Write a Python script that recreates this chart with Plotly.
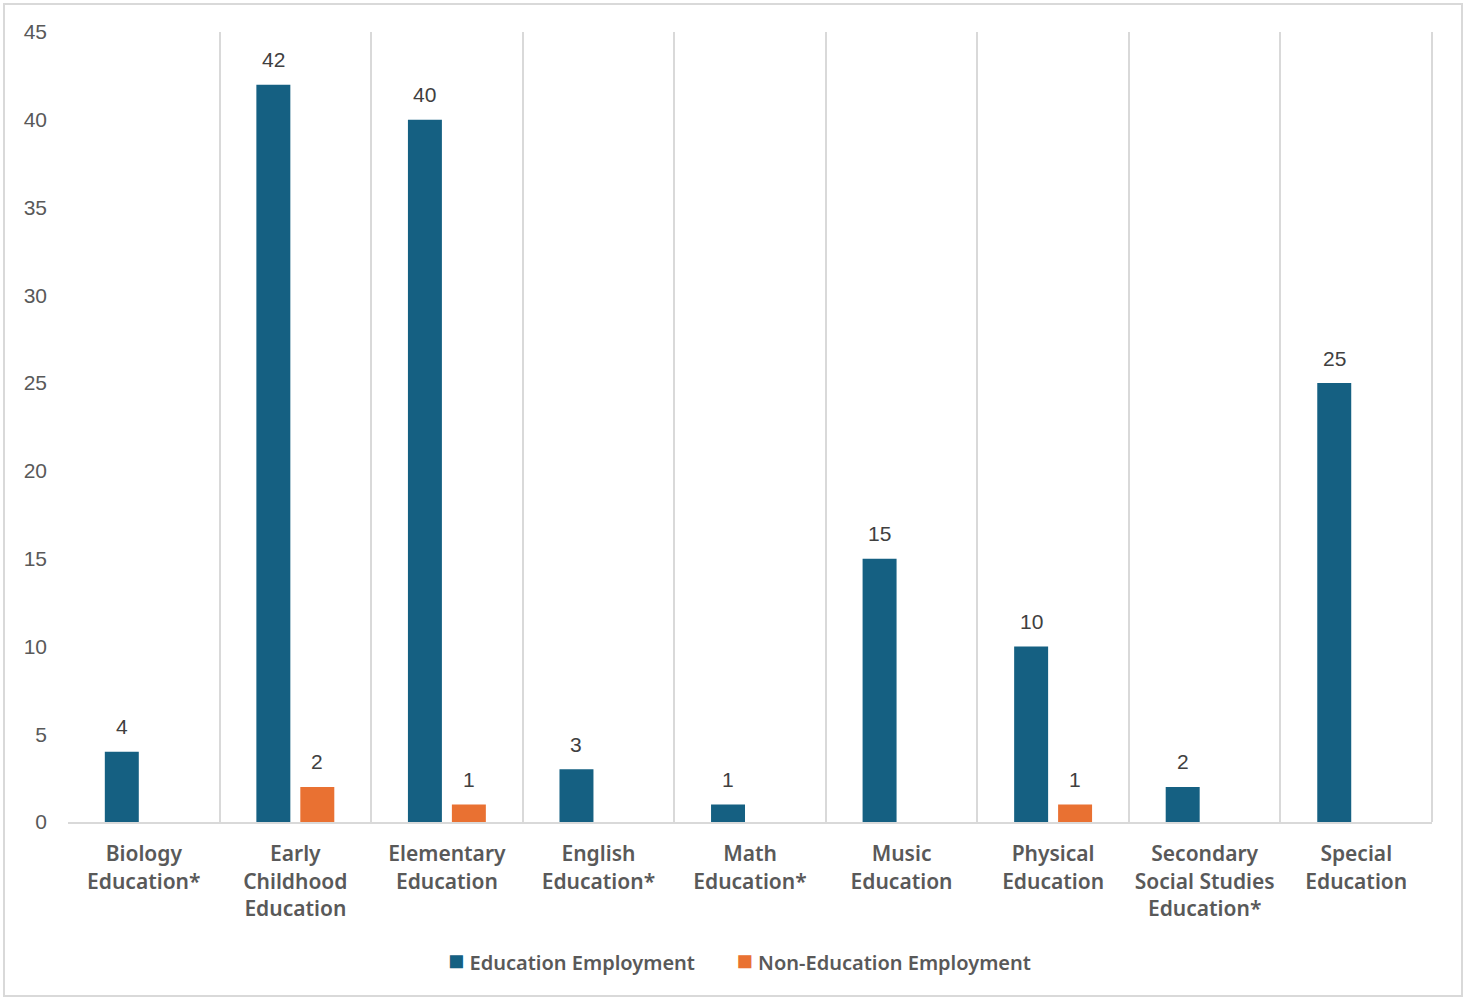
import plotly.graph_objects as go

categories = [
    "Biology<br>Education*",
    "Early<br>Childhood<br>Education",
    "Elementary<br>Education",
    "English<br>Education*",
    "Math<br>Education*",
    "Music<br>Education",
    "Physical<br>Education",
    "Secondary<br>Social Studies<br>Education*",
    "Special<br>Education",
]
education_employment = [4, 42, 40, 3, 1, 15, 10, 2, 25]
non_education_employment = [None, 2, 1, None, None, None, 1, None, None]
y_ticks = [0, 5, 10, 15, 20, 25, 30, 35, 40, 45]
series_names = ["Education Employment", "Non-Education Employment"]
series_colors = ["#156082", "#E97132"]

W, H = 1468, 998
ML, MR, MT, MB = 68, 36, 32, 176
BARGAP = 0.42
plot_w = W - ML - MR
slot_px = plot_w / len(categories) * (1 - BARGAP) / 2

fig = go.Figure()
annotations = []
for i, (name, vals, col) in enumerate(zip(series_names,
                                          [education_employment, non_education_employment],
                                          series_colors)):
    fig.add_trace(go.Bar(
        name=name, x=categories, y=vals,
        marker=dict(color=col, line=dict(width=0)),
        showlegend=False,
    ))
    shift = (i - 0.5) * slot_px
    for c, v in zip(categories, vals):
        if v is None:
            continue
        annotations.append(dict(
            x=c, y=v, xref="x", yref="y", text=str(v), showarrow=False,
            xshift=shift, yshift=25, yanchor="middle",
            font=dict(family="Liberation Sans, Arial, sans-serif", size=21, color="#404040"),
        ))

nb = "\u00a0"
legend_text = (
    f"<span style='color:{series_colors[0]};font-size:27px'>■</span>{nb}{series_names[0]}"
    + nb * 8 +
    f"<span style='color:{series_colors[1]};font-size:27px'>■</span>{nb}{series_names[1]}"
)
annotations.append(dict(
    x=0.4925, y=-0.1745, xref="paper", yref="paper", text=legend_text, showarrow=False,
    xanchor="center", yanchor="middle",
    font=dict(family="Noto Sans, sans-serif", size=20, color="#595959", weight=600),
))

fig.update_layout(
    width=W, height=H,
    margin=dict(l=ML, r=MR, t=MT, b=MB),
    paper_bgcolor="white", plot_bgcolor="white",
    barmode="group", bargap=BARGAP, bargroupgap=0.227,
    showlegend=False,
    font=dict(family="Liberation Sans, Arial, sans-serif"),
    xaxis=dict(
        type="category", tickson="boundaries", showgrid=True, gridcolor="#d9d9d9", gridwidth=2,
        showline=True, linecolor="#d9d9d9", linewidth=2,
        ticks="", tickfont=dict(family="Noto Sans, sans-serif", size=21, color="#595959", weight=600),
        ticklabelstandoff=12,
    ),
    yaxis=dict(
        range=[0, 45], tickvals=y_ticks, showgrid=False, zeroline=False, showline=False,
        tickfont=dict(family="Liberation Sans, Arial, sans-serif", size=21, color="#595959"),
        ticks="", ticklabelstandoff=20,
    ),
    annotations=annotations,
    shapes=[
        dict(type="rect", xref="paper", yref="paper",
             x0=(4 - ML) / plot_w, x1=(1462 - ML) / plot_w,
             y0=-(996 - (H - MB)) / (H - MT - MB), y1=(H - MB - 4) / (H - MT - MB),
             line=dict(color="#d9d9d9", width=2), fillcolor="rgba(0,0,0,0)", layer="below"),
        dict(type="line", xref="paper", yref="paper", x0=1, x1=1, y0=0, y1=1,
             line=dict(color="#d9d9d9", width=2)),
    ],
)

fig.write_html("out.html", config={"displayModeBar": False},
               post_script="document.body.style.margin='0';")
